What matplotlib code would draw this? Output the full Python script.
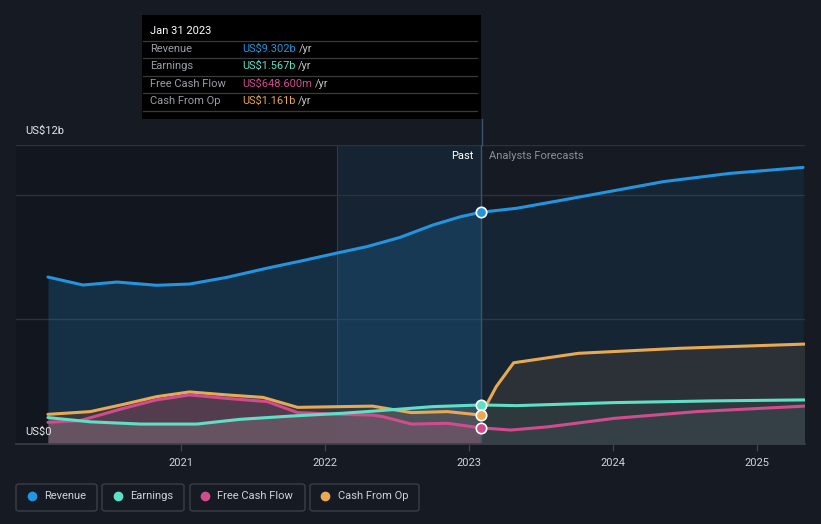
import matplotlib
matplotlib.use("Agg")
import matplotlib.pyplot as plt
import numpy as np
from matplotlib.patches import FancyBboxPatch, Rectangle
from matplotlib.lines import Line2D

plt.rcParams['font.family'] = ['Roboto', 'DejaVu Sans']

# ---------------- data (US$ billions) ----------------
rev_x = [2020.076, 2020.32, 2020.556, 2020.83, 2021.06, 2021.32, 2021.6, 2021.83,
         2022.08, 2022.29, 2022.52, 2022.75, 2022.94, 2023.083,
         2023.33, 2023.65, 2024.03, 2024.35, 2024.81, 2025.32]
rev_y = [6.70, 6.38, 6.50, 6.37, 6.42, 6.69, 7.06, 7.34,
         7.66, 7.92, 8.29, 8.79, 9.12, 9.302,
         9.46, 9.79, 10.19, 10.53, 10.86, 11.10]

earn_x = [2020.076, 2020.37, 2020.72, 2021.11, 2021.41, 2021.76, 2022.11,
          2022.29, 2022.75, 2023.083, 2023.33, 2024.0, 2024.69, 2025.33]
earn_y = [1.06, 0.89, 0.80, 0.80, 0.99, 1.12, 1.23,
          1.30, 1.50, 1.567, 1.54, 1.66, 1.73, 1.77]

fcf_x = [2020.076, 2020.30, 2020.60, 2020.83, 2021.06, 2021.32, 2021.60, 2021.81,
         2022.11, 2022.33, 2022.40, 2022.60, 2022.85, 2023.083,
         2023.29, 2023.55, 2024.01, 2024.58, 2025.33]
fcf_y = [0.87, 0.94, 1.43, 1.77, 1.97, 1.83, 1.70, 1.26,
         1.19, 1.16, 1.10, 0.80, 0.83, 0.6486,
         0.56, 0.69, 1.03, 1.30, 1.52]

cfo_x = [2020.076, 2020.37, 2020.60, 2020.83, 2021.06, 2021.32, 2021.57, 2021.81,
         2022.11, 2022.33, 2022.60, 2022.85, 2023.083,
         2023.19, 2023.31, 2023.76, 2024.46, 2025.33]
cfo_y = [1.19, 1.30, 1.59, 1.90, 2.09, 1.97, 1.87, 1.47,
         1.50, 1.52, 1.26, 1.30, 1.161,
         2.31, 3.26, 3.64, 3.84, 4.01]

years = [2021, 2022, 2023, 2024, 2025]
tip_date = "Jan 31 2023"
tip_x = 2023.083
series_names = ["Revenue", "Earnings", "Free Cash Flow", "Cash From Op"]
tip_values = ["US$9.302b", "US$1.567b", "US$648.600m", "US$1.161b"]
tip_vals_num = [9.302, 1.567, 0.6486, 1.161]
colors = ["#2394df", "#5fe0c6", "#d14b8f", "#e8a952"]

# ---------------- figure ----------------
W, H = 821, 524
BG = "#151a23"
fig = plt.figure(figsize=(W / 100, H / 100), dpi=100, facecolor=BG)


def fx(x):
    return x / W


def fy(y):
    return 1 - y / H


ax = fig.add_axes([fx(16), fy(444), fx(805) - fx(16), fy(145) - fy(444)])
ax.set_facecolor(BG)
x0 = 2021 + (16 - 181) / 144
x1 = 2021 + (805 - 181) / 144
ax.set_xlim(x0, x1)
ax.set_ylim(0, 12)

# darker past area, highlighted last-year band
ax.axvspan(x0, 2022.083, color="#0f131a", alpha=0.45, lw=0, zorder=0)
ax.axvspan(2022.083, tip_x, color="#1d4a72", alpha=0.2, lw=0, zorder=0)
ax.axvline(2022.083, color="#24405a", lw=0.8, zorder=0.5)

# grid
for g in [5, 10, 12]:
    ax.axhline(g, color="#2c323b", lw=1, zorder=0.6)


def split_fill(xs, ys, c_past, a_past, c_fut, a_fut, z):
    xs = np.array(xs)
    ys = np.array(ys)
    p = xs <= tip_x + 1e-9
    f = xs >= tip_x - 1e-9
    ax.fill_between(xs[p], 0, ys[p], color=c_past, alpha=a_past, lw=0, zorder=z)
    ax.fill_between(xs[f], 0, ys[f], color=c_fut, alpha=a_fut, lw=0, zorder=z)


split_fill(rev_x, rev_y, "#2394df", 0.2, "#2394df", 0.09, 1)
split_fill(cfo_x, cfo_y, "#3a3b40", 0.9, "#303438", 0.85, 1.1)
split_fill(fcf_x, fcf_y, "#d14b8f", 0.2, "#8a8fb0", 0.08, 1.2)
split_fill(earn_x, earn_y, "#b0b0b0", 0.2, "#5fe0c6", 0.05, 1.3)

# lines
lw = 2.2
kw = dict(lw=lw, solid_capstyle="round", solid_joinstyle="round")
ax.plot(rev_x, rev_y, color=colors[0], zorder=3, **kw)
ax.plot(cfo_x, cfo_y, color=colors[3], zorder=3.1, **kw)
ax.plot(fcf_x, fcf_y, color=colors[2], zorder=3.2, **kw)
ax.plot(earn_x, earn_y, color=colors[1], zorder=3.3, **kw)

# markers at tooltip date
for v, c in zip(tip_vals_num, colors):
    ax.plot([tip_x], [v], "o", ms=7.5, mfc=c, mec="white", mew=1.2, zorder=5)

# vertical tooltip line
ax.axvline(tip_x, color="#3a5470", lw=1, zorder=2)
fig.add_artist(Line2D([fx(481.5), fx(481.5)], [fy(145), fy(119)], color="#3a5470", lw=1))

# axes styling
for s in ["top", "right", "left"]:
    ax.spines[s].set_visible(False)
ax.spines["bottom"].set_color("#3a3f48")
ax.spines["bottom"].set_linewidth(1.2)
ax.set_yticks([])
ax.set_xticks(years)
ax.set_xticklabels([str(y) for y in years])
ax.tick_params(axis="x", colors="#3a3f48", length=5, width=1, labelcolor="#d0d3d8",
               labelsize=8, pad=5)

# y labels
fig.text(fx(25), fy(131), "US$12b", color="#e6e8eb", fontsize=8, va="center", ha="left")
fig.text(fx(25), fy(432), "US$0", color="#e6e8eb", fontsize=8, va="center", ha="left")

# Past / Forecast
fig.text(fx(473), fy(156), "Past", color="#ffffff", fontsize=8, va="center", ha="right")
fig.text(fx(489), fy(156), "Analysts Forecasts", color="#8a8f98", fontsize=8, va="center", ha="left")

# tooltip
fig.add_artist(Rectangle((fx(142), fy(119)), fx(481) - fx(142), fy(15) - fy(119),
                         facecolor="#000000", edgecolor="none", zorder=10))
fig.text(fx(150), fy(31), tip_date, color="#ffffff", fontsize=8, va="center", ha="left", zorder=11)
for yy in [41, 58, 76, 93, 111]:
    fig.add_artist(Line2D([fx(143), fx(477)], [fy(yy), fy(yy)], color="#3a3a3a", lw=0.9, zorder=11))
rows_y = [49, 66, 84, 101]
fig.canvas.draw()
for name, val, c, yy in zip(series_names, tip_values, colors, rows_y):
    fig.text(fx(150), fy(yy), name, color="#9a9ea5", fontsize=8, va="center", ha="left", zorder=11)
    t = fig.text(fx(242), fy(yy), val, color=c, fontsize=7.9, va="center", ha="left", zorder=11)
    bb = t.get_window_extent(renderer=fig.canvas.get_renderer())
    fig.text(bb.x1 / W + fx(3), fy(yy), "/yr", color="#c0c3c8", fontsize=7.9,
             va="center", ha="left", zorder=11)

# legend boxes
boxes = [(16, 97), (102, 184), (190, 305), (310, 419)]
dots = [32, 118, 205, 325]
texts_x = [44, 130, 217, 338]
for (a, b), d, tx, name, c in zip(boxes, dots, texts_x, series_names, colors):
    fig.add_artist(FancyBboxPatch((fx(a), fy(511)), fx(b) - fx(a), fy(484) - fy(511),
                                  boxstyle="round,pad=0,rounding_size=0.004",
                                  facecolor=BG, edgecolor="#3a3f48", lw=1))
    fig.add_artist(Line2D([fx(d)], [fy(496)], marker="o", ms=6, color=c, mec=c))
    fig.text(fx(tx), fy(496), name, color="#d0d3d8", fontsize=8, va="center", ha="left")

fig.savefig("out.png", dpi=100, facecolor=BG)
